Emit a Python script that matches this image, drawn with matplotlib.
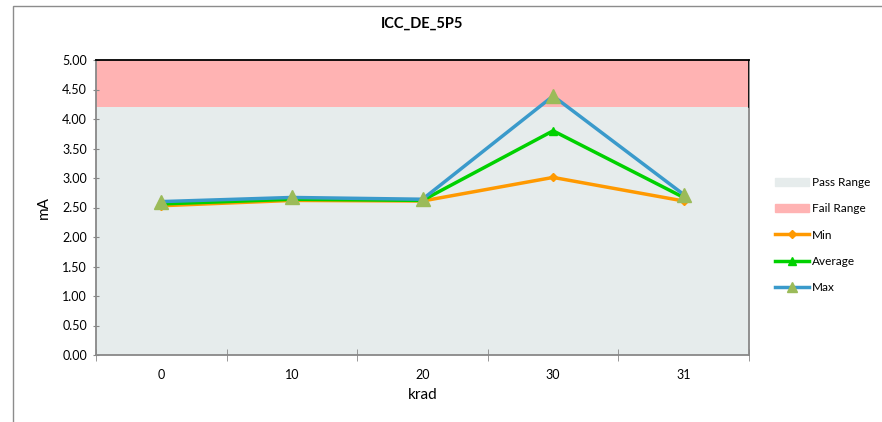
import numpy as np
import matplotlib.pyplot as plt
from matplotlib.patches import Rectangle
from matplotlib.lines import Line2D

plt.rcParams['font.family'] = ['Lato', 'DejaVu Sans']

# Data
categories = ["0", "10", "20", "30", "31"]
min_vals = [2.53, 2.62, 2.61, 3.01, 2.61]
avg_vals = [2.56, 2.64, 2.62, 3.80, 2.67]
max_vals = [2.60, 2.67, 2.64, 4.39, 2.72]
pass_limit = 4.2
fail_limit = 5.0

x = np.arange(len(categories))

fig = plt.figure(figsize=(8.82, 4.22), dpi=100)

# chart border
fig.patches.append(Rectangle((13 / 882, -0.1), 1.0, 1.1 - 6 / 422, transform=fig.transFigure,
                             fill=False, edgecolor='#8c8c8c', linewidth=1.0))

ax = fig.add_axes([96 / 882, 1 - 355 / 422, (749 - 96) / 882, (355 - 60) / 422])

# Pass / fail ranges
edges = np.array([-0.5, len(categories) - 0.5])
ax.fill_between(edges, 0, pass_limit, color='#e6ecec', linewidth=0)
ax.fill_between(edges, pass_limit, fail_limit, color='#ffb3b3', linewidth=0)
ax.plot([edges[1], edges[1]], [pass_limit, fail_limit], color='black', lw=1.2, zorder=3)

ax.plot(x, min_vals, color='#ff9900', lw=2.5, marker='D', ms=4, zorder=4)
ax.plot(x, avg_vals, color='#00d100', lw=2.5, marker='^', ms=6, zorder=5)
ax.plot(x, max_vals, color='#3a9acb', lw=2.5, marker='^', ms=10,
        markerfacecolor='#9bbb59', markeredgecolor='#9bbb59', zorder=6)

ax.set_xlim(edges)
ax.set_ylim(0, 5)
ax.set_yticks(np.arange(0, 5.01, 0.5))
ax.set_yticklabels([f"{v:.2f}" for v in np.arange(0, 5.01, 0.5)], fontsize=9)
ax.set_xticks(x)
ax.set_xticklabels(categories, fontsize=9)
ax.set_xticks(np.arange(-0.5, len(categories)), minor=True)
ax.tick_params(axis='x', which='major', length=0, pad=10)
ax.tick_params(axis='x', which='minor', length=8, direction='inout', color='#888888')
ax.tick_params(axis='y', length=5, direction='inout', color='#888888', pad=4)

for side in ['left', 'bottom', 'right']:
    ax.spines[side].set_color('#888888')
    ax.spines[side].set_linewidth(1.3)
ax.spines['top'].set_color('black')
ax.spines['top'].set_linewidth(1.3)

ax.set_title("ICC_DE_5P5", fontsize=10.5, fontweight='bold', pad=23)
ax.set_xlabel("krad", fontsize=11, labelpad=5)
ax.set_ylabel("mA", fontsize=11, labelpad=8)

handles = [
    Rectangle((0, 0), 1, 1, color='#e6ecec'),
    Rectangle((0, 0), 1, 1, color='#ffb3b3'),
    Line2D([], [], color='#ff9900', lw=2.5, marker='D', ms=4),
    Line2D([], [], color='#00d100', lw=2.5, marker='^', ms=6),
    Line2D([], [], color='#3a9acb', lw=2.5, marker='^', ms=7,
           markerfacecolor='#9bbb59', markeredgecolor='#9bbb59'),
]
labels = ["Pass Range", "Fail Range", "Min", "Average", "Max"]
fig.legend(handles, labels, loc='upper left', bbox_to_anchor=(769 / 882, 1 - 171 / 422),
           frameon=False, fontsize=8.5, handlelength=2.9, handleheight=0.7,
           handletextpad=0.2, labelspacing=1.3, borderpad=0)

fig.savefig("out.png", dpi=100)
